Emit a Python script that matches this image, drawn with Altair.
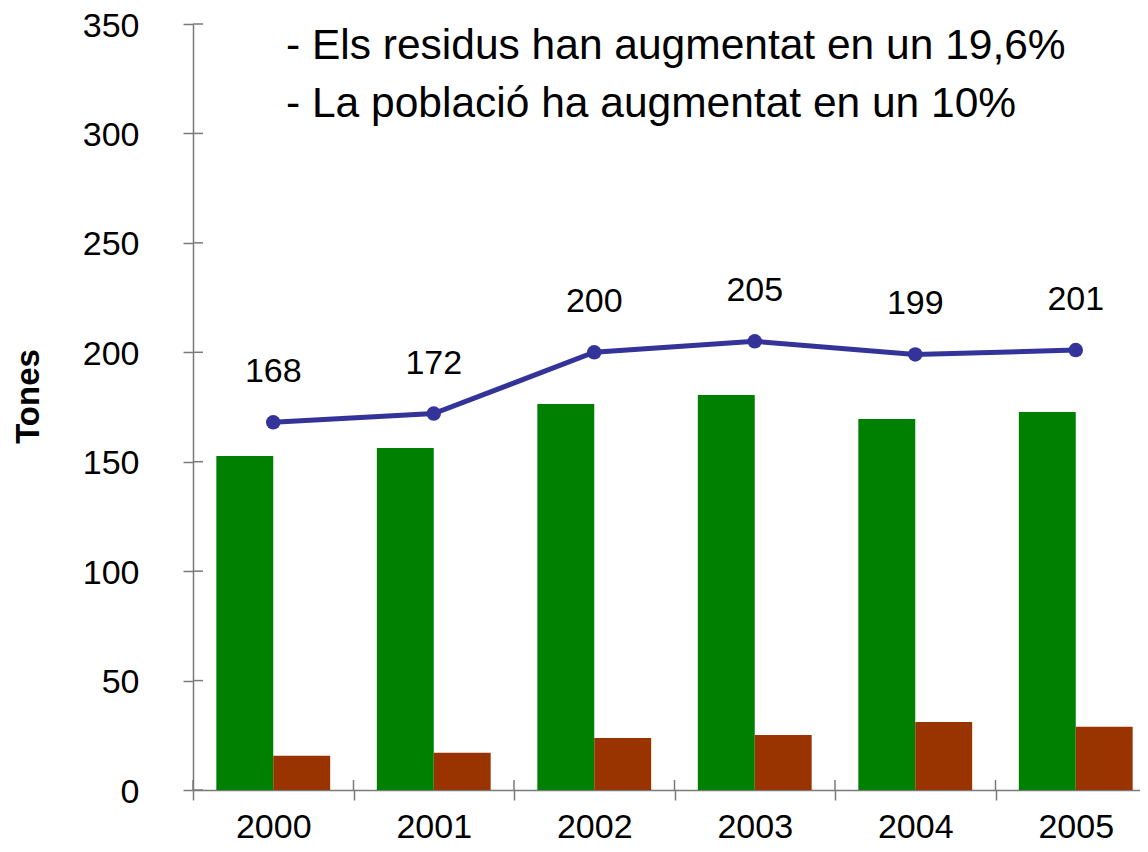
import altair as alt
import pandas as pd

# ---- data ----
years = ["2000", "2001", "2002", "2003", "2004", "2005"]
series = ["Sèrie 1", "Sèrie 2"]
green_vals = [152.6, 156.3, 176.4, 180.5, 169.5, 172.7]
brown_vals = [15.6, 17.0, 23.8, 25.1, 31.1, 28.9]
totals = [168, 172, 200, 205, 199, 201]
y_ticks = [0, 50, 100, 150, 200, 250, 300, 350]
notes = ["- Els residus han augmentat en un 19,6%",
         "- La població ha augmentat en un 10%"]

# ---- styling ----
FONT = "Liberation Sans"
AX = "#7a7a7a"
GREEN = "#008000"
BROWN = "#993300"
LINE = "#333399"
PAD_L = 185
PLOT_W = 1132 - PAD_L
PLOT_H = 766
X_RANGE = 963

df_bars = pd.DataFrame({
    "year": years * 2,
    "series": [series[0]] * len(years) + [series[1]] * len(years),
    "value": green_vals + brown_vals,
})
df_tot = pd.DataFrame({"year": years, "total": totals})
df_yt = pd.DataFrame({"v": y_ticks})
df_years = pd.DataFrame({"year": years})

xs = alt.Scale(domain=years, range=[0, X_RANGE], paddingInner=0, paddingOuter=0)
ys = alt.Scale(domain=[0, 350], nice=False, zero=True)

x_axis = alt.Axis(title=None, tickBand="extent", tickSize=10, tickColor=AX,
                  tickWidth=1.5, domainColor=AX, domainWidth=1.5,
                  labelFont=FONT, labelFontSize=34, labelColor="black",
                  labelPadding=10, labelAngle=0, grid=False)
y_axis = alt.Axis(title="Tones", values=y_ticks, tickSize=10, tickColor=AX,
                  tickWidth=1.5, domainColor=AX, domainWidth=1.5,
                  labelFont=FONT, labelFontSize=34, labelColor="black",
                  labelPadding=44, labelOffset=2, grid=False,
                  titleFont=FONT, titleFontSize=33, titleFontWeight="bold",
                  titleColor="black", titleAngle=-90, titleX=-165, titleY=372,
                  titleAlign="center", titleBaseline="middle")

X = lambda: alt.X("year:N", scale=xs, axis=x_axis)

bars = alt.Chart(df_bars).mark_bar().encode(
    x=X(),
    xOffset=alt.XOffset("series:N", scale=alt.Scale(domain=series, paddingInner=0, paddingOuter=0.41)),
    y=alt.Y("value:Q", scale=ys, axis=y_axis),
    color=alt.Color("series:N", scale=alt.Scale(domain=series, range=[GREEN, BROWN]), legend=None),
)

line = alt.Chart(df_tot).mark_line(color=LINE, strokeWidth=5).encode(
    x=X(), y=alt.Y("total:Q", scale=ys, axis=y_axis))
pts = alt.Chart(df_tot).mark_circle(color=LINE, size=210, opacity=1).encode(
    x=X(), y=alt.Y("total:Q", scale=ys, axis=y_axis))
lbl = alt.Chart(df_tot).mark_text(font=FONT, fontSize=34, dy=-40, baseline="alphabetic",
                                  align="center", color="black").encode(
    x=X(), y=alt.Y("total:Q", scale=ys, axis=y_axis), text="total:Q")

ytick_in = alt.Chart(df_yt).mark_rule(color=AX, strokeWidth=1.5).encode(
    y=alt.Y("v:Q", scale=ys, axis=y_axis), x=alt.value(0), x2=alt.value(10))
xtick_in = alt.Chart(df_years).mark_rule(color=AX, strokeWidth=1.5).encode(
    x=alt.X("year:N", scale=xs, axis=x_axis, bandPosition=0),
    y=alt.value(PLOT_H - 10), y2=alt.value(PLOT_H))

note1 = alt.Chart(pd.DataFrame({"t": [notes[0]]})).mark_text(
    font=FONT, fontSize=42.5, align="left", baseline="alphabetic", color="black").encode(
    x=alt.value(93), y=alt.value(35), text="t:N")
note2 = alt.Chart(pd.DataFrame({"t": [notes[1]]})).mark_text(
    font=FONT, fontSize=42.5, align="left", baseline="alphabetic", color="black").encode(
    x=alt.value(93), y=alt.value(93), text="t:N")

chart = alt.layer(bars, xtick_in, ytick_in, line, pts, lbl, note1, note2).properties(
    width=PLOT_W, height=PLOT_H,
    autosize=alt.AutoSizeParams(type="none"),
    padding={"left": PAD_L, "top": 16, "right": 0, "bottom": 54},
    background="white",
).configure_view(stroke=None)

chart.save("out.html", embed_options={"renderer": "svg", "actions": False})
